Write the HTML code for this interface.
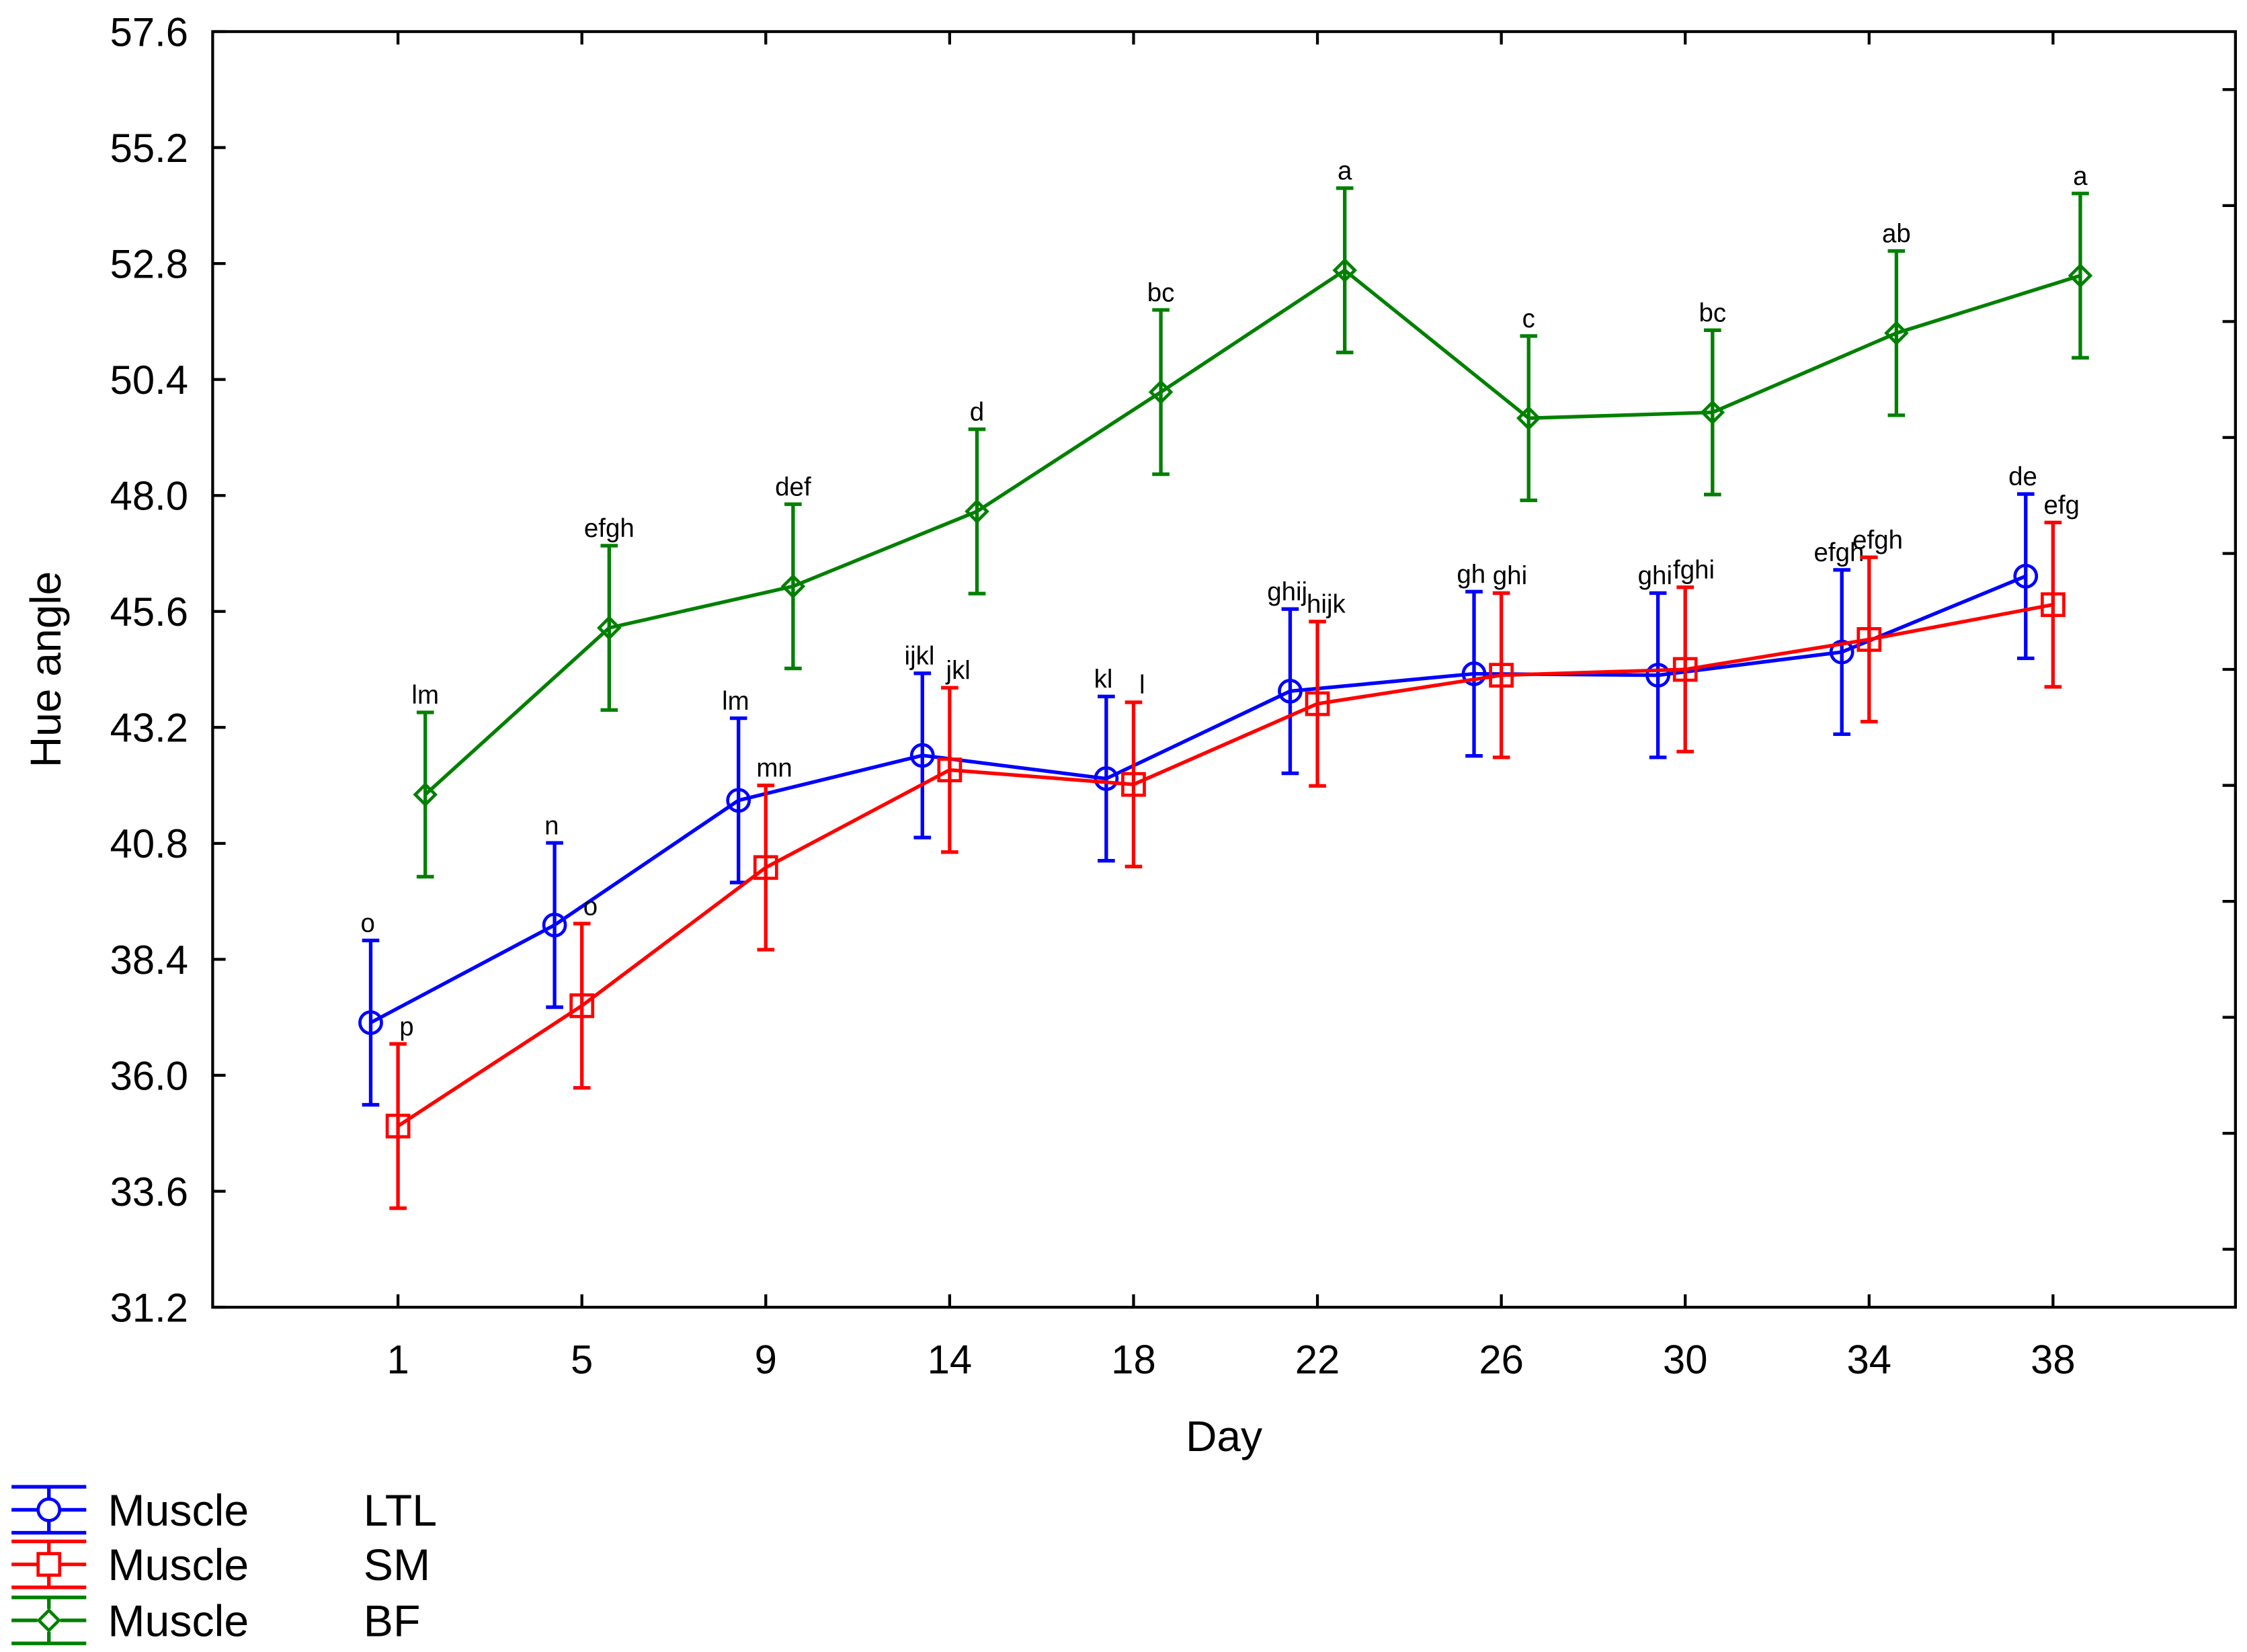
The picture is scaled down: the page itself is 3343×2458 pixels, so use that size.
<!DOCTYPE html>
<html><head><meta charset="utf-8"><style>html,body{margin:0;padding:0;background:#fff}svg{display:block}</style></head>
<body>
<svg id="chart" xmlns="http://www.w3.org/2000/svg" width="3343" height="2458" viewBox="0 0 1564 1150" font-family="Liberation Sans, sans-serif">
<rect x="0" y="0" width="1564" height="1150" fill="#fff"/>
<g id="axes"></g><g id="series"></g><g id="legend"></g>
</svg>
<script>
const categories = ["1","5","9","14","18","22","26","30","34","38"];
const yTicks = [31.2,33.6,36.0,38.4,40.8,43.2,45.6,48.0,50.4,52.8,55.2,57.6];
const ltlValues = [37.09,39.11,41.69,42.62,42.14,43.95,44.31,44.28,44.76,46.33];
const ltlErr = [1.7,1.7,1.7,1.7,1.7,1.7,1.7,1.7,1.7,1.7];
const ltlLabels = ["o","n","lm","ijkl","kl","ghij","gh","ghi","efgh","de"];
const smValues = [34.95,37.44,40.30,42.32,42.02,43.69,44.28,44.40,45.02,45.74];
const smErr = [1.7,1.7,1.7,1.7,1.7,1.7,1.7,1.7,1.7,1.7];
const smLabels = ["p","o","mn","jkl","l","hijk","ghi","fghi","efgh","efg"];
const bfValues = [41.81,45.26,46.12,47.67,50.14,52.66,49.60,49.72,51.36,52.55];
const bfErr = [1.7,1.7,1.7,1.7,1.7,1.7,1.7,1.7,1.7,1.7];
const bfLabels = ["lm","efgh","def","d","bc","a","c","bc","ab","a"];

const NS="http://www.w3.org/2000/svg";
const L=148,R=1556,T=22,B=910,YMIN=31.2,YMAX=57.6;
function y(v){return B-(v-YMIN)/(YMAX-YMIN)*(B-T);}
function x(i){return 277+i*128;}
function mk(tag,attrs,parent,text){const e=document.createElementNS(NS,tag);for(const k in attrs)e.setAttribute(k,attrs[k]);if(text!==undefined)e.textContent=text;parent.appendChild(e);return e;}
const axes=document.getElementById('axes');
let fr=mk('rect',{x:L,y:T,width:R-L,height:B-T,fill:'none',stroke:'#000','stroke-width':2},axes);


yTicks.forEach(v=>{
  const t=mk('line',{x1:L,x2:L+9,y1:y(v),y2:y(v),stroke:'#000','stroke-width':2},axes);
  
  
  const lb=mk('text',{x:131,y:y(v)+10,'text-anchor':'end','font-size':28},axes,v.toFixed(1));
  
  
  if(v<YMAX){const m=y(v+1.2);const rt=mk('line',{x1:R-9,x2:R,y1:m,y2:m,stroke:'#000','stroke-width':2},axes);
  
  }
});
categories.forEach((c,i)=>{
  const t=mk('line',{x1:x(i),x2:x(i),y1:B,y2:B-9,stroke:'#000','stroke-width':2},axes);
  
  
  const tt=mk('line',{x1:x(i),x2:x(i),y1:T,y2:T+9,stroke:'#000','stroke-width':2},axes);
  
  
  const lb=mk('text',{x:x(i),y:956,'text-anchor':'middle','font-size':28},axes,c);
  
  
});
let xt=mk('text',{x:852,y:1010,'text-anchor':'middle','font-size':30},axes,'Day');


let yt=mk('text',{x:0,y:0,'text-anchor':'middle','font-size':30,transform:'translate(42,466) rotate(-90)'},axes,'Hue angle');



function marker(g,type,cx,cy,color){
  if(type==='circle')return mk('circle',{cx:cx,cy:cy,r:7.5,fill:'none',stroke:color,'stroke-width':2.2},g);
  if(type==='square')return mk('rect',{x:cx-7.5,y:cy-7.5,width:15,height:15,fill:'none',stroke:color,'stroke-width':2.2},g);
  return mk('polygon',{points:`${cx},${cy-7} ${cx+7},${cy} ${cx},${cy+7} ${cx-7},${cy}`,fill:'none',stroke:color,'stroke-width':2.2},g);
}
const ser=document.getElementById('series');
function drawSeries(name,vals,errs,labels,color,off,type,lOff){
  const g=mk('g',{},ser);
  
  
  const pts=vals.map((v,i)=>`${x(i)+off},${y(v)}`).join(' ');
  const pl=mk('polyline',{points:pts,fill:'none',stroke:color,'stroke-width':2.5},g);
  
  
  vals.forEach((v,i)=>{
    const cx=x(i)+off,hi=y(v+errs[i]),lo=y(v-errs[i]);
    const eb=mk('path',{d:`M${cx},${hi}V${lo}M${cx-6},${hi}H${cx+6}M${cx-6},${lo}H${cx+6}`,stroke:color,'stroke-width':2.5,fill:'none'},g);
    
    
    const m=marker(g,type,cx,y(v),color);
    
    
    const t=mk('text',{x:cx+lOff,y:hi-6,'text-anchor':'middle','font-size':18},g,labels[i]);
    
    
  });
}
drawSeries('ltl',ltlValues,ltlErr,ltlLabels,'#0000ff',-19,'circle',-2);
drawSeries('sm',smValues,smErr,smLabels,'#ff0000',0,'square',6);
drawSeries('bf',bfValues,bfErr,bfLabels,'#008000',19,'diamond',0);

const lg=document.getElementById('legend');
[['LTL','#0000ff','circle',1051],['SM','#ff0000','square',1089],['BF','#008000','diamond',1128]].forEach(([n,c,t,yy])=>{
  const g=mk('g',{},lg);
  
  
  mk('path',{d:`M8,${yy}H60M34,${yy-16}V${yy+16}M8,${yy-16}H60M8,${yy+16}H60`,stroke:c,'stroke-width':2.5,fill:'none'},g);
  mk('rect',{x:26,y:yy-8,width:16,height:16,fill:'#fff'},g);
  marker(g,t,34,yy,c);
  mk('text',{x:75,y:yy+11,'font-size':31},g,'Muscle');
  mk('text',{x:253,y:yy+11,'font-size':31},g,n);
});
</script>
</body></html>
